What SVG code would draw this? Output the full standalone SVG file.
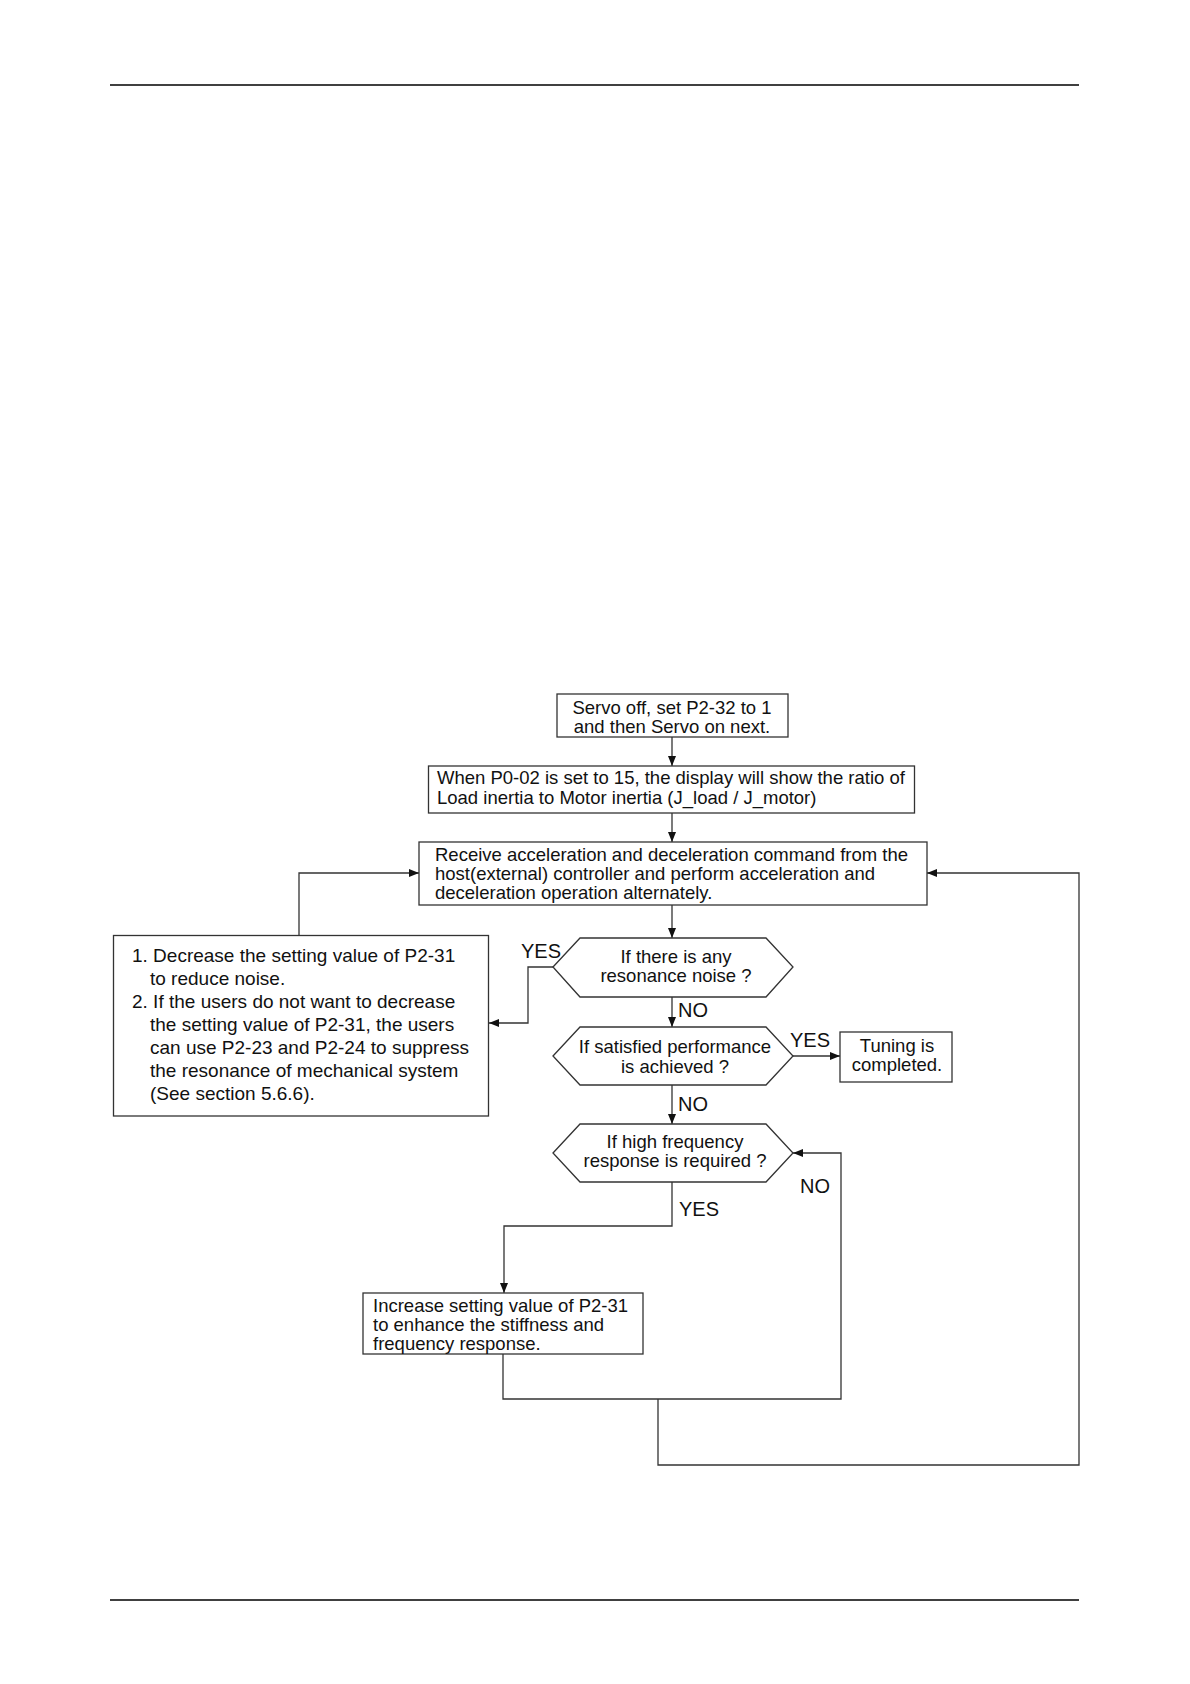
<svg xmlns="http://www.w3.org/2000/svg" width="1190" height="1684" viewBox="0 0 1190 1684">
<defs>
<marker id="ah" viewBox="0 0 10 10" refX="10" refY="5" markerWidth="10" markerHeight="10" markerUnits="userSpaceOnUse" orient="auto">
<path d="M0,1 L10,5 L0,9 z" fill="#111"/>
</marker>
<style>
.box{fill:#fff;stroke:#333;stroke-width:1.3}
.t{font-family:"Liberation Sans",Arial,sans-serif;font-size:18.5px;fill:#111}
.tl{font-size:19px}
.c{text-anchor:middle}
.lbl{font-family:"Liberation Sans",Arial,sans-serif;font-size:20px;fill:#111}
.ln{fill:none;stroke:#333;stroke-width:1.3}
.rule{stroke:#000;stroke-width:1.6}
</style>
</defs>
<rect width="1190" height="1684" fill="#fff"/>
<line class="rule" x1="110" y1="85" x2="1079" y2="85"/>
<line class="rule" x1="110" y1="1600" x2="1079" y2="1600"/>

<g id="connectors">
<line class="ln" x1="672" y1="737" x2="672" y2="766" marker-end="url(#ah)"/>
<line class="ln" x1="672" y1="813" x2="672" y2="842" marker-end="url(#ah)"/>
<line class="ln" x1="672" y1="905" x2="672" y2="938" marker-end="url(#ah)"/>
<polyline class="ln" points="553,967 528,967 528,1023 489,1023" marker-end="url(#ah)"/>
<polyline class="ln" points="299,935.5 299,873 419,873" marker-end="url(#ah)"/>
<line class="ln" x1="672" y1="997" x2="672" y2="1027" marker-end="url(#ah)"/>
<line class="ln" x1="793" y1="1056" x2="840" y2="1056" marker-end="url(#ah)"/>
<line class="ln" x1="672" y1="1085" x2="672" y2="1124" marker-end="url(#ah)"/>
<polyline class="ln" points="672,1182 672,1226 504,1226 504,1293" marker-end="url(#ah)"/>
<polyline class="ln" points="503,1354 503,1399 841,1399 841,1153 793,1153" marker-end="url(#ah)"/>
<polyline class="ln" points="658,1399 658,1465 1079,1465 1079,873 927,873" marker-end="url(#ah)"/>
<text class="lbl" x="521" y="958">YES</text>
<text class="lbl" x="678" y="1017">NO</text>
<text class="lbl" x="790" y="1047">YES</text>
<text class="lbl" x="678" y="1111">NO</text>
<text class="lbl" x="800" y="1193">NO</text>
<text class="lbl" x="679" y="1216">YES</text>
</g>

<g id="n1">
<rect class="box" x="557" y="694" width="231" height="43"/>
<text class="t c" x="672" y="714">Servo off, set P2-32 to 1</text>
<text class="t c" x="672" y="733">and then Servo on next.</text>
</g>
<g id="n2">
<rect class="box" x="428.5" y="766" width="486" height="47"/>
<text class="t" x="437" y="784">When P0-02 is set to 15, the display will show the ratio of</text>
<text class="t" x="437" y="804">Load inertia to Motor inertia (J_load / J_motor)</text>
</g>
<g id="n3">
<rect class="box" x="419" y="842" width="508" height="63"/>
<text class="t" x="435" y="861">Receive acceleration and deceleration command from the</text>
<text class="t" x="435" y="880">host(external) controller and perform acceleration and</text>
<text class="t" x="435" y="899">deceleration operation alternately.</text>
</g>
<g id="n4">
<polygon class="box" points="553,967 580,938 766,938 793,967 766,997 580,997"/>
<text class="t c" x="676" y="963">If there is any</text>
<text class="t c" x="676" y="982">resonance noise ?</text>
</g>
<g id="n5">
<rect class="box" x="113.5" y="935.5" width="375" height="180.5"/>
<text class="t tl" x="132" y="962">1. Decrease the setting value of P2-31</text>
<text class="t tl" x="150" y="985">to reduce noise.</text>
<text class="t tl" x="132" y="1008">2. If the users do not want to decrease</text>
<text class="t tl" x="150" y="1031">the setting value of P2-31, the users</text>
<text class="t tl" x="150" y="1054">can use P2-23 and P2-24 to suppress</text>
<text class="t tl" x="150" y="1077">the resonance of mechanical system</text>
<text class="t tl" x="150" y="1100">(See section 5.6.6).</text>
</g>
<g id="n6">
<polygon class="box" points="553,1056 580,1027 766,1027 793,1056 766,1085 580,1085"/>
<text class="t c" x="675" y="1053">If satisfied performance</text>
<text class="t c" x="675" y="1073">is achieved ?</text>
</g>
<g id="n7">
<rect class="box" x="840" y="1032" width="112" height="50"/>
<text class="t c" x="897" y="1052">Tuning is</text>
<text class="t c" x="897" y="1071">completed.</text>
</g>
<g id="n8">
<polygon class="box" points="553,1153 580,1124 766,1124 793,1153 766,1182 580,1182"/>
<text class="t c" x="675" y="1148">If high frequency</text>
<text class="t c" x="675" y="1167">response is required ?</text>
</g>
<g id="n9">
<rect class="box" x="363" y="1293" width="280" height="61"/>
<text class="t" x="373" y="1312">Increase setting value of P2-31</text>
<text class="t" x="373" y="1331">to enhance the stiffness and</text>
<text class="t" x="373" y="1350">frequency response.</text>
</g>
</svg>
